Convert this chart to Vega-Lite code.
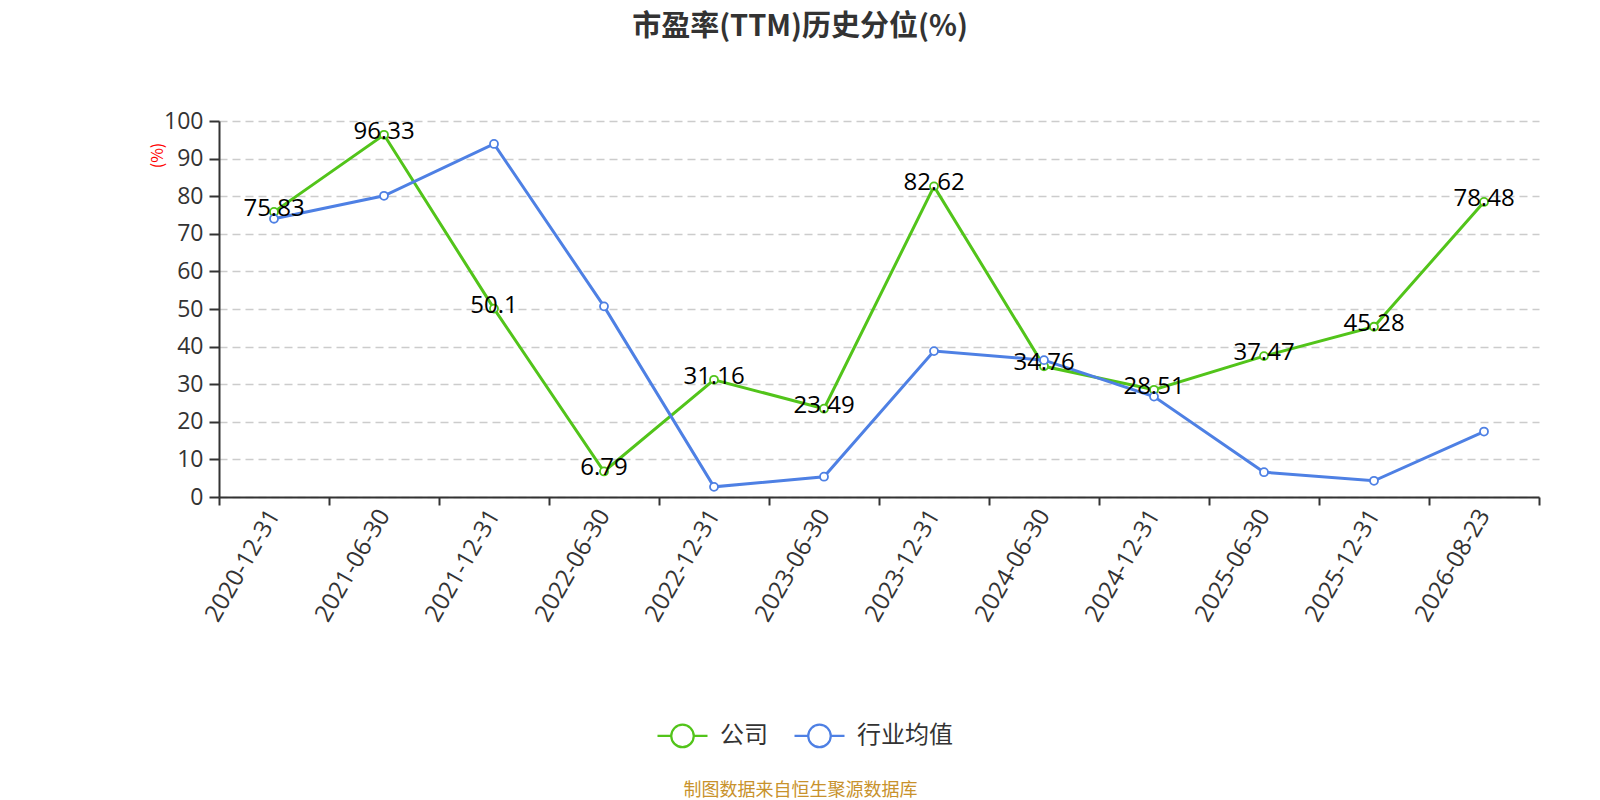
{
  "$schema": "https://vega.github.io/schema/vega-lite/v6.json",
  "width": 1320,
  "height": 376,
  "autosize": "none",
  "padding": {"left": 219, "top": 121, "right": 61, "bottom": 303},
  "background": "white",
  "title": {
    "text": "市盈率(TTM)历史分位(%)",
    "font": "Noto Sans CJK SC",
    "fontSize": 29,
    "fontWeight": "bold",
    "color": "#333333",
    "anchor": "middle",
    "frame": "group",
    "dx": -79,
    "offset": 68
  },
  "data": {
    "values": [
      {"date": "2020-12-31", "series": "公司", "value": 75.83},
      {"date": "2021-06-30", "series": "公司", "value": 96.33},
      {"date": "2021-12-31", "series": "公司", "value": 50.1},
      {"date": "2022-06-30", "series": "公司", "value": 6.79},
      {"date": "2022-12-31", "series": "公司", "value": 31.16},
      {"date": "2023-06-30", "series": "公司", "value": 23.49},
      {"date": "2023-12-31", "series": "公司", "value": 82.62},
      {"date": "2024-06-30", "series": "公司", "value": 34.76},
      {"date": "2024-12-31", "series": "公司", "value": 28.51},
      {"date": "2025-06-30", "series": "公司", "value": 37.47},
      {"date": "2025-12-31", "series": "公司", "value": 45.28},
      {"date": "2026-08-23", "series": "公司", "value": 78.48},
      {"date": "2020-12-31", "series": "行业均值", "value": 74.0},
      {"date": "2021-06-30", "series": "行业均值", "value": 80.1},
      {"date": "2021-12-31", "series": "行业均值", "value": 93.9},
      {"date": "2022-06-30", "series": "行业均值", "value": 50.7},
      {"date": "2022-12-31", "series": "行业均值", "value": 2.7},
      {"date": "2023-06-30", "series": "行业均值", "value": 5.4},
      {"date": "2023-12-31", "series": "行业均值", "value": 38.8},
      {"date": "2024-06-30", "series": "行业均值", "value": 36.4},
      {"date": "2024-12-31", "series": "行业均值", "value": 26.7},
      {"date": "2025-06-30", "series": "行业均值", "value": 6.6},
      {"date": "2025-12-31", "series": "行业均值", "value": 4.3},
      {"date": "2026-08-23", "series": "行业均值", "value": 17.4}
    ]
  },
  "encoding": {
    "x": {
      "field": "date",
      "type": "ordinal",
      "scale": {"paddingInner": 0, "paddingOuter": 0},
      "axis": {
        "title": "制图数据来自恒生聚源数据库",
        "titleColor": "#c8922c",
        "titleFont": "Noto Sans CJK SC",
        "titleFontSize": 18,
        "titleFontWeight": "normal",
        "titleX": 581,
        "titleY": 293,
        "titleAlign": "center",
        "titleBaseline": "middle",
        "labelAngle": -60,
        "labelAlign": "right",
        "labelBaseline": "middle",
        "labelFont": "Open Sans",
        "labelFontSize": 24,
        "labelColor": "#333333",
        "labelPadding": 6,
        "tickBand": "extent",
        "tickSize": 8,
        "tickWidth": 2,
        "tickColor": "#333333",
        "domainColor": "#333333",
        "domainWidth": 2,
        "grid": false
      }
    },
    "y": {
      "field": "value",
      "type": "quantitative",
      "scale": {"domain": [0, 100], "nice": false},
      "axis": {
        "title": "(%)",
        "titleColor": "#ff0000",
        "titleFont": "Noto Sans CJK SC",
        "titleFontSize": 16,
        "titleFontWeight": "normal",
        "titleAngle": -90,
        "titleX": -62,
        "titleY": 34,
        "titleAlign": "center",
        "titleBaseline": "middle",
        "values": [0, 10, 20, 30, 40, 50, 60, 70, 80, 90, 100],
        "labelFont": "Open Sans",
        "labelFontSize": 23,
        "labelColor": "#333333",
        "labelPadding": 6,
        "tickSize": 10,
        "tickWidth": 2,
        "tickColor": "#333333",
        "domainColor": "#333333",
        "domainWidth": 2,
        "grid": true,
        "gridColor": "#cccccc",
        "gridDash": [8, 5],
        "gridWidth": 1.5
      }
    }
  },
  "layer": [
    {
      "mark": {
        "type": "line",
        "strokeWidth": 3,
        "point": {"filled": false, "fill": "white", "size": 64, "strokeWidth": 1.8}
      },
      "encoding": {
        "color": {
          "field": "series",
          "type": "nominal",
          "scale": {"domain": ["公司", "行业均值"], "range": ["#52c41a", "#4e80e4"]},
          "legend": {
            "orient": "none",
            "direction": "horizontal",
            "legendX": 437,
            "legendY": 588,
            "title": null,
            "symbolType": "M -1 0 L -0.45 0 M 0.45 0 L 1 0 M 0 -0.45 A 0.45 0.45 0 1 1 0 0.45 A 0.45 0.45 0 1 1 0 -0.45",
            "symbolSize": 2500,
            "symbolStrokeWidth": 2.2,
            "symbolFillColor": "transparent",
            "labelFont": "Noto Sans CJK SC",
            "labelFontSize": 24,
            "labelColor": "#333333",
            "labelOffset": 11,
            "columnPadding": 22
          }
        }
      }
    },
    {
      "transform": [{"filter": "datum.series == '公司'"}],
      "mark": {
        "type": "text",
        "font": "Open Sans",
        "fontSize": 24,
        "color": "#000000",
        "align": "center",
        "baseline": "middle",
        "dy": -3
      },
      "encoding": {
        "text": {"field": "value", "type": "nominal"}
      }
    }
  ],
  "config": {
    "view": {"stroke": null}
  }
}
